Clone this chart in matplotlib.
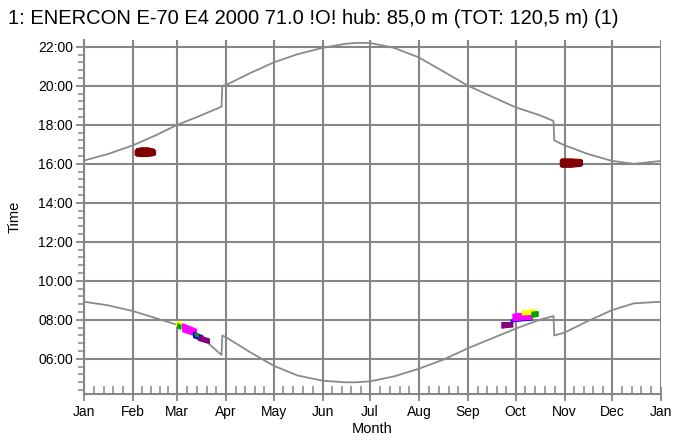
import matplotlib
matplotlib.use("Agg")
import matplotlib.pyplot as plt
from matplotlib.ticker import FixedLocator, MultipleLocator, FuncFormatter

plt.rcParams['font.family'] = ['Liberation Sans', 'DejaVu Sans']

# ---- data (day of year, hour of day) ----
sunset_days = [0, 15, 31, 45, 59, 73, 87, 87.5, 90, 105, 120, 135, 151, 165, 172, 181, 196,
               212, 227, 243, 258, 273, 288, 297, 297.5, 304, 319, 334, 348, 365]
sunset_hours = [16.17, 16.5, 16.95, 17.45, 18.0, 18.45, 18.93, 20.0, 20.05, 20.65, 21.2, 21.62,
                21.95, 22.15, 22.2, 22.2, 21.95, 21.45, 20.75, 20.0, 19.45, 18.9, 18.5, 18.2,
                17.2, 16.95, 16.5, 16.15, 16.0, 16.15]

sunrise_days = [0, 15, 31, 45, 59, 73, 87, 87.5, 90, 105, 120, 135, 151, 165, 172, 181, 196,
                212, 227, 243, 258, 273, 288, 297, 297.5, 304, 319, 334, 348, 365]
sunrise_hours = [8.93, 8.75, 8.45, 8.1, 7.75, 7.2, 6.2, 7.2, 7.1, 6.35, 5.65, 5.15, 4.88,
                 4.8, 4.8, 4.85, 5.1, 5.5, 5.95, 6.55, 7.05, 7.55, 8.0, 8.2, 7.2, 7.35, 7.95,
                 8.5, 8.85, 8.93]

# shadow flicker periods per receptor colour: days, start hour, end hour
shadow_colors = ['#800000', '#800000', '#ffff00', '#00a000', '#ff00ff', '#0000ff', '#800080',
                 '#00a000',
                 '#800080', '#0000ff', '#ff00ff', '#ffff00', '#00a000']
shadow_days = [
    [32, 33, 36, 40, 44, 45],
    [301, 302, 308, 314, 315],
    [58, 60, 62],
    [59, 60, 61],
    [62, 65, 68, 71],
    [69, 72, 75],
    [72, 75, 79],
    [70, 71, 72],
    [264, 267, 271],
    [270, 276, 283],
    [271, 277, 283],
    [277, 281, 285],
    [283, 285, 287],
]
shadow_start = [
    [16.48, 16.42, 16.4, 16.4, 16.45, 16.5],
    [15.9, 15.85, 15.85, 15.9, 15.95],
    [7.7, 7.65, 7.6],
    [7.6, 7.57, 7.55],
    [7.42, 7.34, 7.26, 7.18],
    [7.12, 7.03, 6.93],
    [6.98, 6.9, 6.82],
    [7.2, 7.18, 7.16],
    [7.6, 7.63, 7.66],
    [7.92, 7.97, 8.02],
    [7.98, 8.02, 8.06],
    [8.28, 8.3, 8.32],
    [8.15, 8.18, 8.2],
]
shadow_end = [
    [16.7, 16.8, 16.85, 16.85, 16.78, 16.68],
    [16.22, 16.28, 16.28, 16.25, 16.2],
    [7.95, 7.9, 7.85],
    [7.82, 7.8, 7.75],
    [7.82, 7.74, 7.64, 7.54],
    [7.4, 7.3, 7.2],
    [7.25, 7.15, 7.05],
    [7.35, 7.33, 7.3],
    [7.89, 7.89, 7.9],
    [8.02, 8.07, 8.12],
    [8.32, 8.36, 8.38],
    [8.5, 8.53, 8.55],
    [8.42, 8.44, 8.45],
]

month_starts = [0, 31, 59, 90, 120, 151, 181, 212, 243, 273, 304, 334, 365]
month_labels = ['Jan', 'Feb', 'Mar', 'Apr', 'May', 'Jun', 'Jul', 'Aug', 'Sep', 'Oct', 'Nov',
                'Dec', 'Jan']
hour_ticks = [6, 8, 10, 12, 14, 16, 18, 20, 22]

title = "1: ENERCON E-70 E4 2000 71.0 !O! hub: 85,0 m (TOT: 120,5 m) (1)"

# ---- figure ----
fig = plt.figure(figsize=(6.77, 4.41), dpi=100)
ax = fig.add_axes([84 / 677, 1 - 394 / 441, (661 - 84) / 677, (394 - 40) / 441])

grid_c = '#868686'
for d in month_starts:
    ax.axvline(d, color=grid_c, lw=1.5, zorder=1)
for h in hour_ticks:
    ax.axhline(h, color=grid_c, lw=1.5, zorder=1)

ax.plot(sunset_days, sunset_hours, color='#8a8a8a', lw=1.3, zorder=2)
ax.plot(sunrise_days, sunrise_hours, color='#8a8a8a', lw=1.3, zorder=2)

for c, d, s, e in zip(shadow_colors, shadow_days, shadow_start, shadow_end):
    ax.fill_between(d, s, e, color=c, lw=0.8, edgecolor=c, zorder=3)

ax.set_xlim(0, 365)
ax.set_ylim(4.2, 22.35)
ax.xaxis.set_major_locator(FixedLocator(month_starts))
ax.set_xticklabels(month_labels)
minor_x = []
for a, b in zip(month_starts[:-1], month_starts[1:]):
    for k in range(1, 5):
        minor_x.append(a + (b - a) * k / 5)
ax.xaxis.set_minor_locator(FixedLocator(minor_x))
ax.yaxis.set_major_locator(FixedLocator(hour_ticks))
ax.yaxis.set_major_formatter(FuncFormatter(lambda v, p: f"{int(v):02d}:00"))
ax.yaxis.set_minor_locator(MultipleLocator(0.4))

for sp in ['top', 'right']:
    ax.spines[sp].set_visible(False)
for sp in ['left', 'bottom']:
    ax.spines[sp].set_color(grid_c)
    ax.spines[sp].set_linewidth(1.5)

ax.tick_params(axis='x', which='major', direction='inout', length=10, width=1.3, color=grid_c,
               labelsize=10, pad=3)
ax.tick_params(axis='x', which='minor', direction='in', length=6, width=1.1, color=grid_c)
ax.tick_params(axis='y', which='major', direction='out', length=6, width=1.3, color=grid_c,
               labelsize=10, pad=2)
ax.tick_params(axis='y', which='minor', direction='out', length=4, width=1.1, color=grid_c)
ax.set_xlabel('Month', fontsize=10.5, labelpad=2)
ax.set_ylabel('Time', fontsize=10.5, labelpad=12)

fig.text(8 / 677, 1 - 18 / 441, title, fontsize=14.5, ha='left', va='center')

fig.savefig('out.png', dpi=100)
